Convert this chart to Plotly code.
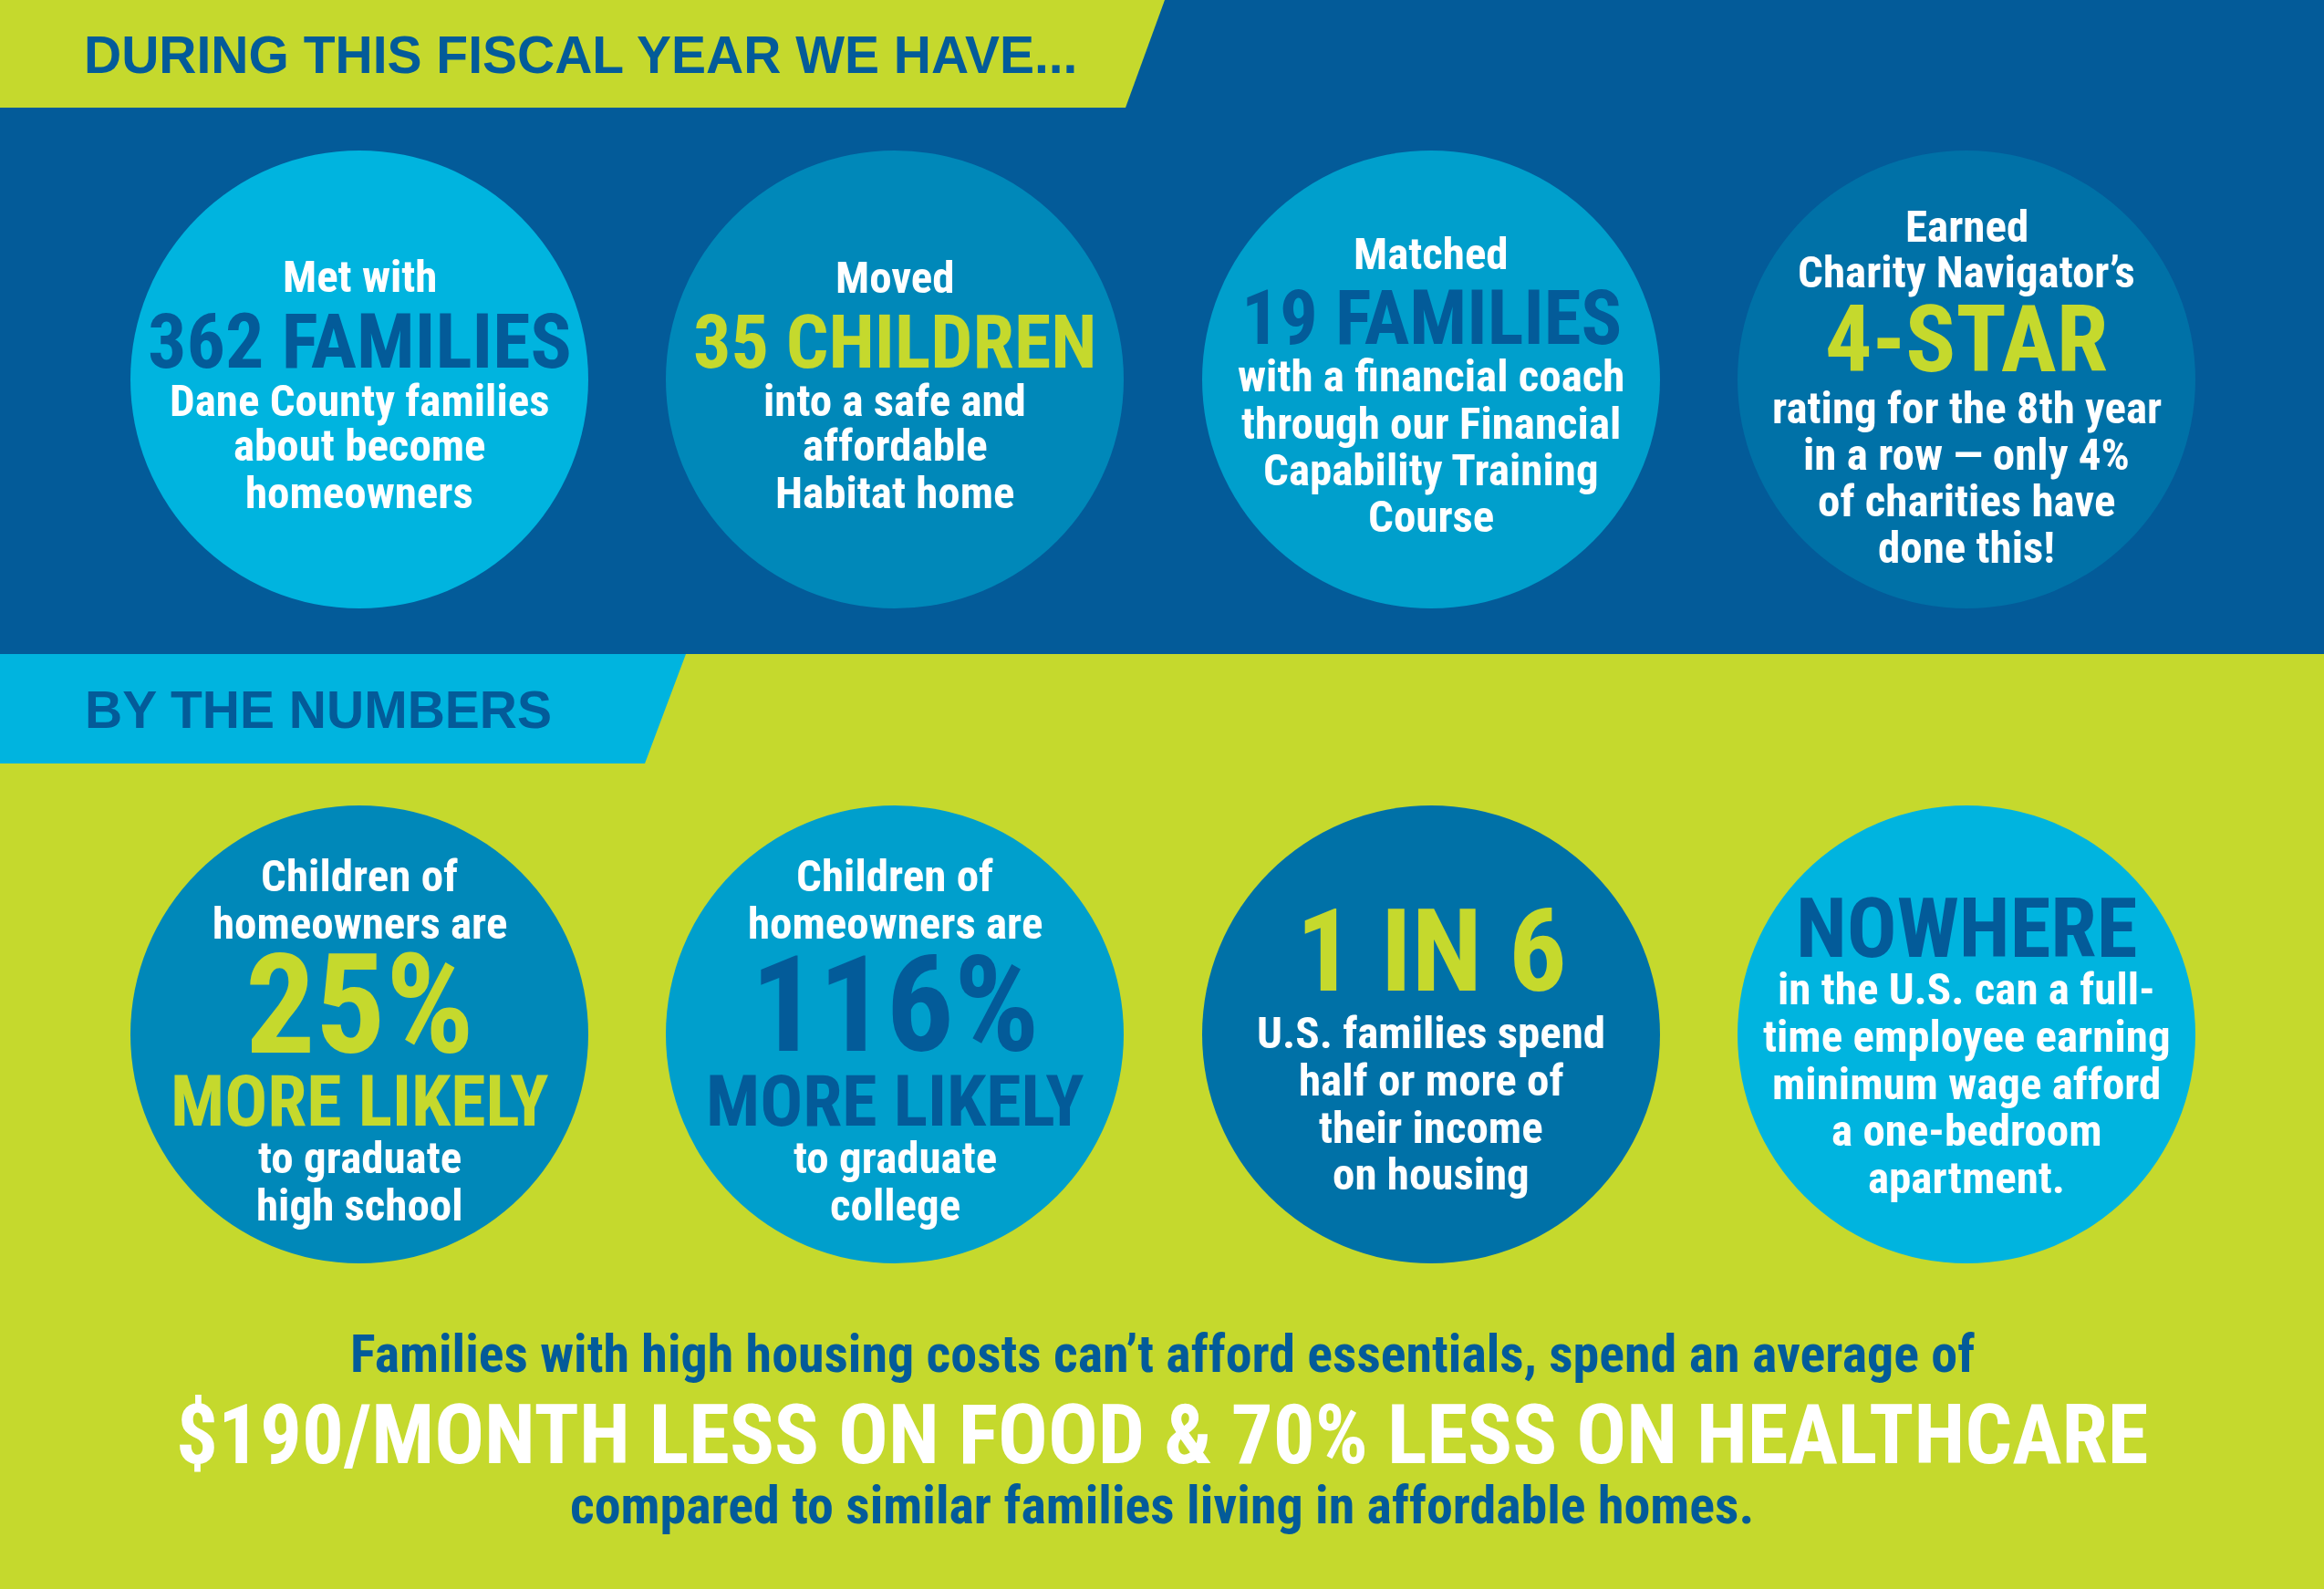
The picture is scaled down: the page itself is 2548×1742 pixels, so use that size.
import plotly.graph_objects as go

# ---------------- data (text content) ----------------
section_titles = ["DURING THIS FISCAL YEAR WE HAVE...", "BY THE NUMBERS"]

fiscal_intro = [["Met with"], ["Moved"], ["Matched"], ["Earned", "Charity Navigator’s"]]
fiscal_highlight = ["362 FAMILIES", "35 CHILDREN", "19 FAMILIES", "4-STAR"]
fiscal_detail = [
    ["Dane County families", "about become", "homeowners"],
    ["into a safe and", "affordable", "Habitat home"],
    ["with a financial coach", "through our Financial", "Capability Training", "Course"],
    ["rating for the 8th year", "in a row — only 4%", "of charities have", "done this!"],
]

stat_intro = [["Children of", "homeowners are"], ["Children of", "homeowners are"], [], []]
stat_figure = ["25%", "116%", "1 IN 6", "NOWHERE"]
stat_qualifier = [["MORE LIKELY"], ["MORE LIKELY"], [], []]
stat_detail = [
    ["to graduate", "high school"],
    ["to graduate", "college"],
    ["U.S. families spend", "half or more of", "their income", "on housing"],
    ["in the U.S. can a full-", "time employee earning", "minimum wage afford", "a one-bedroom", "apartment."],
]

footer_lines = [
    "Families with high housing costs can’t afford essentials, spend an average of",
    "$190/MONTH LESS ON FOOD & 70% LESS ON HEALTHCARE",
    "compared to similar families living in affordable homes.",
]

# ---------------- layout & style ----------------
W, H = 2548, 1742
DARK = "#035b99"
LIME = "#c5d92d"
CYAN = "#00b4df"
MID = "#0088b9"
SKY = "#009fcc"
DEEP = "#0071a7"
WHITE = "#ffffff"

NARROW = "Liberation Sans Narrow, Arial Narrow, Roboto Condensed, Liberation Sans, Arial, sans-serif"
WIDE = "Liberation Sans, Arial, Helvetica, sans-serif"

col_x = [394, 981, 1569, 2156]
row_y = [416, 1134]
R = 251

top_fill = [CYAN, MID, SKY, DEEP]
top_hi_color = [DARK, LIME, DARK, LIME]
top_hi_size = [84, 82, 83, 102]
top_line_y = [
    [303.6, 374.7, 439, 488.8, 540.8],
    [304.4, 374.7, 439, 488.8, 540.8],
    [278.1, 348.3, 412.9, 464.2, 515.4, 566.7],
    [248.1, 298.9, 372.4, 447.3, 498.5, 549.5, 600.1],
]

bot_fill = [MID, SKY, DEEP, CYAN]
bot_hi_color = [LIME, DARK, LIME, DARK]
bot_fig_size = [152, 147, 126, 91]
bot_line_y = [
    [960.7, 1012.4, 1102.4, 1207.8, 1269.5, 1321.1],
    [960.7, 1012.4, 1102.4, 1207.8, 1269.5, 1321.1],
    [1043, 1132.9, 1184.6, 1236.2, 1287.9],
    [1018, 1084, 1136, 1188, 1239.3, 1291.3],
]
BODY = 49
QUAL = 78

footer_y = [1483.7, 1572.5, 1650.3]
footer_size = [58, 91, 58]
footer_color = [DARK, WHITE, DARK]

fig = go.Figure()
# invisible trace to establish axes
fig.add_trace(go.Scatter(x=[0, W], y=[0, H], mode="markers",
                         marker=dict(opacity=0), hoverinfo="skip", showlegend=False))

shapes = []
# dark blue top section
shapes.append(dict(type="rect", x0=0, x1=W, y0=0, y1=717, fillcolor=DARK, line_width=0, layer="below"))
# lime header banner (slanted right edge)
shapes.append(dict(type="path", path="M0,0 L1277,0 L1234,118 L0,118 Z", fillcolor=LIME, line_width=0, layer="below"))
# cyan "by the numbers" banner
shapes.append(dict(type="path", path="M0,717 L752,717 L707,837 L0,837 Z", fillcolor=CYAN, line_width=0, layer="below"))

for i, cx in enumerate(col_x):
    shapes.append(dict(type="circle", x0=cx - R, x1=cx + R, y0=row_y[0] - R, y1=row_y[0] + R,
                       fillcolor=top_fill[i], line_width=0, layer="below"))
    shapes.append(dict(type="circle", x0=cx - R, x1=cx + R, y0=row_y[1] - R, y1=row_y[1] + R,
                       fillcolor=bot_fill[i], line_width=0, layer="below"))

ann = []


def add_text(x, y, text, size, color, family=NARROW, xanchor="center"):
    ann.append(dict(x=x, y=y, xref="x", yref="y", text=text, showarrow=False,
                    xanchor=xanchor, yanchor="middle", borderpad=0,
                    font=dict(family=family, size=size, color=color, weight="bold")))


# section titles
add_text(91, 60, section_titles[0], 57, DARK, family=WIDE, xanchor="left")
add_text(92, 778, section_titles[1], 57, DARK, family=WIDE, xanchor="left")

# top row circles
for i, cx in enumerate(col_x):
    ys = top_line_y[i]
    k = 0
    for t in fiscal_intro[i]:
        add_text(cx, ys[k], t, BODY, WHITE); k += 1
    add_text(cx, ys[k], fiscal_highlight[i], top_hi_size[i], top_hi_color[i]); k += 1
    for t in fiscal_detail[i]:
        add_text(cx, ys[k], t, BODY, WHITE); k += 1

# bottom row circles
for i, cx in enumerate(col_x):
    ys = bot_line_y[i]
    k = 0
    for t in stat_intro[i]:
        add_text(cx, ys[k], t, BODY, WHITE); k += 1
    add_text(cx, ys[k], stat_figure[i], bot_fig_size[i], bot_hi_color[i]); k += 1
    for t in stat_qualifier[i]:
        add_text(cx, ys[k], t, QUAL, bot_hi_color[i]); k += 1
    for t in stat_detail[i]:
        add_text(cx, ys[k], t, BODY, WHITE); k += 1

# footer
for t, y, s, c in zip(footer_lines, footer_y, footer_size, footer_color):
    add_text(1274, y, t, s, c)

fig.update_layout(
    width=W, height=H,
    margin=dict(l=0, r=0, t=0, b=0),
    paper_bgcolor=LIME, plot_bgcolor=LIME,
    xaxis=dict(range=[0, W], visible=False, fixedrange=True),
    yaxis=dict(range=[H, 0], visible=False, fixedrange=True),
    shapes=shapes, annotations=ann, showlegend=False,
)

fig.write_html(
    "out.html",
    config={"displayModeBar": False},
    post_script="document.body.style.margin='0';document.body.style.padding='0';"
                "document.body.style.overflow='hidden';"
                "document.documentElement.style.overflow='hidden';",
)
